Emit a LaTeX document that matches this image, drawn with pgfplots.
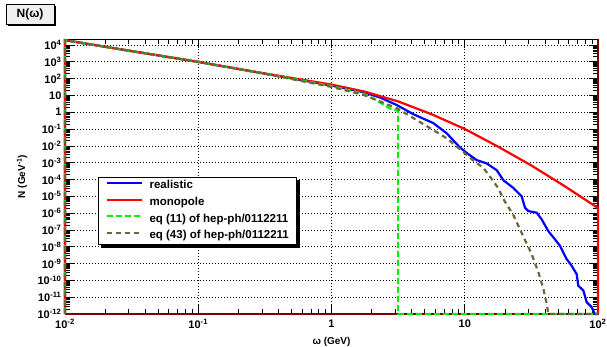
\documentclass[border=0pt]{standalone}
\usepackage{fontspec}
\setmainfont{Liberation Sans}[BoldFont={Liberation Sans Bold}]
\usepackage{pgfplots}
\pgfplotsset{compat=1.18}
\usetikzlibrary{shadows}
\definecolor{olivec}{RGB}{105,105,60}
\definecolor{greenc}{RGB}{0,240,0}
\definecolor{darkred}{RGB}{120,0,0}
\begin{document}
\begin{tikzpicture}[x=1pt,y=1pt]
\useasboundingbox (0,0) rectangle (607,347);
\begin{axis}[
  at={(65pt,33pt)}, anchor=south west,
  scale only axis, width=533pt, height=275pt,
  xmode=log, ymode=log,
  xmin=0.01, xmax=100, ymin=1e-12, ymax=2.24e4,
  clip=false,
  axis line style={black, line width=0.8pt},
  tick align=inside,
  major tick length=9pt, minor tick length=5pt,
  every tick/.style={black, line width=0.6pt},
  xtick={0.01,0.1,1,10,100},
  xticklabels={10\textsuperscript{-2},10\textsuperscript{-1},1,10,10\textsuperscript{2}},
  ytick={1e-12,1e-11,1e-10,1e-9,1e-8,1e-7,1e-6,1e-5,1e-4,1e-3,1e-2,1e-1,1,10,100,1000,10000},
  yticklabels={10\textsuperscript{-12},10\textsuperscript{-11},10\textsuperscript{-10},10\textsuperscript{-9},10\textsuperscript{-8},10\textsuperscript{-7},10\textsuperscript{-6},10\textsuperscript{-5},10\textsuperscript{-4},10\textsuperscript{-3},10\textsuperscript{-2},10\textsuperscript{-1},1,10,10\textsuperscript{2},10\textsuperscript{3},10\textsuperscript{4}},
  tick label style={font=\bfseries\fontsize{11}{12}\selectfont},
  xticklabel style={yshift=-2pt},
  grid=major,
  major grid style={black, line width=0.6pt, dash pattern=on 1pt off 2pt},
  xlabel={\textbf{ω (GeV)}},
  ylabel={\textbf{N (GeV\textsuperscript{-1})}},
  label style={font=\bfseries\fontsize{11}{12}\selectfont},
  every axis x label/.style={at={(rel axis cs:0.5,0)}, yshift=-28pt, anchor=center},
  every axis y label/.style={at={(rel axis cs:0,0.5)}, xshift=-43pt, rotate=90, anchor=center},
  legend image code/.code={\draw[#1, line width=2pt] (0pt,3pt) -- (35pt,3pt); \path (41pt,3pt);},
  legend cell align=left,
  legend style={name=leg, at={(0.062,0.498)}, anchor=north west, draw=black, fill=white,
    line width=0.8pt,
    font=\bfseries\fontsize{11.5}{13}\selectfont,
    inner xsep=8pt, inner ysep=3pt, row sep=5.6pt,
    nodes={inner sep=0pt, text height=8.5pt, text depth=2.5pt}},
]
\addplot[darkred, line width=1.2pt, forget plot] coordinates {(0.01,1e-12) (100,1e-12) (100,2.24e4)};
\addplot[blue, line width=2.2pt] coordinates {
(0.01,1e-12) (0.01,1.905e4) (0.0316,4266) (0.1,977) (0.316,195) (0.562,87.1) (1,38.0) (1.734,15.5) (2.312,7.41) (3.083,2.69) (4.111,0.759) (5.808,0.224) (7.311,0.0562) (9.204,7.94e-3) (10.44,3.55e-3) (12.30,1.41e-3) (14.62,8.91e-4) (17.38,3.55e-4) (19.50,8.91e-5) (23.12,3.16e-5) (26.73,1e-5) (28.31,2.09e-6) (29.99,1.32e-6) (34.67,1.05e-6) (37.76,4.27e-7) (42.36,8.51e-8) (47.53,2.75e-8) (51.88,1.12e-8) (58.21,1.82e-9) (63.53,7.24e-10) (69.18,2.34e-10) (71.12,4.79e-11) (77.62,2.51e-11) (82.22,5.01e-12) (89.74,2.51e-12) (94.84,1e-12) (100,1e-12)
};
\addlegendentry{realistic}
\addplot[red, line width=2.2pt] coordinates {
(0.01,1e-12) (0.01,1.905e4) (0.0316,4266) (0.1,977) (0.316,199.5) (0.562,93.3) (1,43.65) (1.778,16.6) (3.162,4.37) (5.623,0.759) (10,0.1) (17.78,8.91e-3) (31.62,6.76e-4) (56.23,3.98e-5) (100,2.0e-6) (100,1e-12)
};
\addlegendentry{monopole}
\addplot[greenc, line width=2.2pt, dash pattern=on 6pt off 3pt] coordinates {
(0.01,1e-12) (0.01,1.905e4) (0.0316,4266) (0.1,977) (0.316,195) (1,35.5) (1.734,12.6) (2.138,5.62) (2.594,2.14) (2.818,1.51) (3.162,1.20) (3.162,1e-12) (100,1e-12)
};
\addlegendentry{eq (11) of hep-ph/0112211}
\addplot[olivec, line width=2.2pt, dash pattern=on 5pt off 4pt] coordinates {
(0.01,1e-12) (0.01,1.905e4) (0.0316,4266) (0.1,977) (0.316,190.5) (1,31.6) (1.734,10.7) (3.083,1.74) (5.495,0.112) (7.311,0.0282) (9.204,6.31e-3) (11.48,1.41e-3) (13.77,5.01e-4) (15.85,1.12e-4) (17.78,3.16e-5) (19.95,5.01e-6) (23.12,7.94e-7) (27.54,3.98e-8) (31.62,3.98e-9) (35.65,3.16e-10) (38.90,3.16e-11) (41.21,3.98e-12) (42.36,1e-12) (100,1e-12)
};
\addlegendentry{eq (43) of hep-ph/0112211}
\end{axis}
\fill[black] ([xshift=3pt]leg.south west) rectangle ([xshift=3pt,yshift=-3pt]leg.south east);
\fill[black] ([yshift=-3pt]leg.north east) rectangle ([xshift=3pt]leg.south east);
\node[draw=black, line width=0.8pt, fill=black!6, drop shadow={shadow xshift=2pt, shadow yshift=-2pt, opacity=1, fill=black},
  minimum width=48pt, minimum height=20pt, inner sep=1pt,
  font=\bfseries\fontsize{12}{14}\selectfont] at (30,333) {N(ω)};
\end{tikzpicture}
\end{document}
